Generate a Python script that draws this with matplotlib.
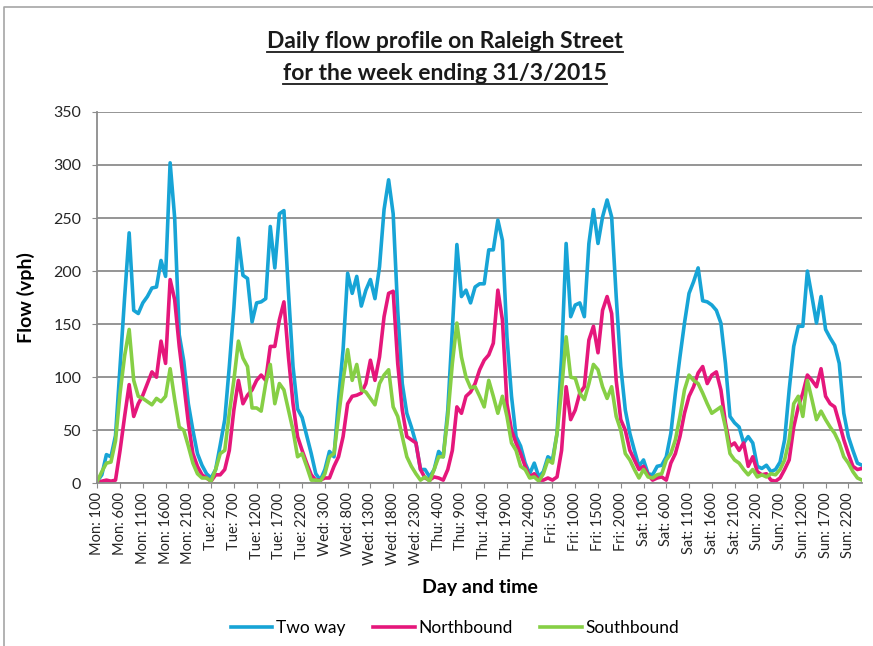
import matplotlib
matplotlib.use("Agg")
import matplotlib.pyplot as plt
from matplotlib.lines import Line2D

plt.rcParams['font.family'] = ['Lato', 'DejaVu Sans']

# hourly flows (vph), Mon 100 ... Sun 2400 plus one closing point
two_way = [
    2, 8, 27, 25, 45, 110, 175, 236, 163, 160, 170, 176, 184, 185, 210, 195, 302, 250, 140, 115, 75, 50, 28, 17,
    9, 5, 13, 36, 60, 110, 165, 231, 196, 193, 152, 170, 171, 174, 242, 203, 254, 257, 180, 110, 70, 62, 45, 28,
    9, 3, 13, 30, 25, 79, 126, 198, 179, 195, 167, 182, 192, 174, 204, 258, 286, 254, 163, 94, 66, 53, 38, 13,
    13, 6, 13, 30, 25, 69, 145, 225, 176, 182, 170, 185, 188, 188, 220, 220, 248, 229, 138, 82, 44, 35, 19, 9,
    19, 6, 11, 25, 22, 47, 119, 226, 157, 168, 170, 157, 226, 258, 226, 251, 267, 251, 176, 110, 69, 47, 31, 16,
    22, 9, 8, 16, 17, 25, 47, 85, 119, 151, 179, 190, 203, 172, 171, 168, 163, 151, 113, 63, 57, 53, 38, 44,
    38, 16, 14, 17, 11, 13, 20, 41, 88, 129, 148, 148, 200, 176, 151, 176, 145, 137, 130, 113, 66, 44, 31, 19,
    17,
]
northbound = [
    0, 2, 3, 2, 3, 31, 63, 93, 63, 75, 83, 94, 105, 100, 134, 113, 192, 173, 129, 94, 57, 28, 16, 8,
    5, 2, 8, 8, 13, 31, 69, 97, 75, 83, 88, 97, 102, 97, 129, 129, 154, 171, 119, 75, 44, 31, 19, 8,
    3, 3, 5, 5, 16, 25, 44, 75, 82, 83, 85, 94, 116, 97, 119, 157, 179, 181, 113, 69, 44, 41, 38, 13,
    5, 3, 6, 5, 3, 13, 31, 72, 66, 82, 86, 94, 107, 116, 121, 132, 182, 154, 75, 50, 38, 28, 16, 6,
    9, 3, 3, 5, 3, 6, 31, 91, 60, 69, 85, 91, 135, 148, 123, 163, 176, 160, 97, 60, 50, 31, 22, 13,
    16, 8, 3, 5, 6, 3, 19, 28, 44, 66, 82, 91, 104, 110, 94, 102, 105, 88, 57, 35, 38, 31, 38, 16,
    25, 11, 8, 9, 3, 2, 5, 13, 22, 53, 72, 85, 102, 97, 91, 108, 82, 75, 72, 57, 41, 28, 16, 13,
    14,
]
southbound = [
    2, 11, 19, 20, 40, 85, 120, 145, 97, 82, 80, 77, 74, 80, 77, 82, 108, 79, 53, 50, 35, 19, 9, 5,
    5, 2, 13, 28, 31, 66, 97, 134, 118, 110, 71, 71, 68, 94, 112, 75, 94, 88, 69, 50, 25, 28, 16, 3,
    3, 2, 9, 25, 28, 63, 97, 126, 97, 112, 88, 86, 80, 74, 94, 102, 107, 72, 63, 44, 25, 16, 9, 3,
    6, 2, 13, 25, 25, 63, 113, 151, 119, 100, 90, 91, 82, 72, 97, 82, 66, 82, 63, 38, 31, 16, 13, 5,
    6, 2, 9, 22, 19, 47, 88, 138, 100, 99, 85, 79, 94, 112, 107, 91, 80, 91, 63, 50, 28, 22, 13, 5,
    13, 6, 5, 8, 9, 22, 28, 41, 63, 88, 102, 97, 94, 85, 75, 66, 69, 72, 53, 28, 22, 19, 13, 8,
    13, 6, 8, 6, 9, 8, 13, 22, 41, 75, 82, 63, 97, 79, 60, 68, 60, 53, 47, 38, 25, 19, 11, 5,
    3,
]

days = ["Mon", "Tue", "Wed", "Thu", "Fri", "Sat", "Sun"]
hours = [100 * h for h in range(1, 25)]
labels = [f"{d}: {h}" for d in days for h in hours]

W, H = 873, 646
fig = plt.figure(figsize=(W / 100, H / 100), dpi=100)
ax = fig.add_axes([97.3 / W, 1 - 483.3 / H, (862 - 97.3) / W, (483.3 - 111.9) / H])

x = list(range(len(two_way)))
ax.plot(x, two_way, color="#17a4d6", lw=2.6, label="Two way", solid_joinstyle="round")
ax.plot(x, northbound, color="#e5177b", lw=2.6, label="Northbound", solid_joinstyle="round")
ax.plot(x, southbound, color="#86cf45", lw=2.6, label="Southbound", solid_joinstyle="round")

ax.set_xlim(0, len(two_way) - 1)
ax.set_ylim(0, 350)
ax.set_yticks(range(0, 351, 50))
ax.set_xticks(range(0, len(labels), 5))
ax.set_xticklabels(labels[::5], rotation=90, fontsize=10.5)
ax.tick_params(axis="y", labelsize=11.5, length=3.6, pad=8, color="#8c8c8c", labelcolor="#262626")
ax.tick_params(axis="x", length=3.6, pad=3, color="#8c8c8c", labelcolor="#262626")
ax.grid(axis="y", color="#8c8c8c", lw=1.3)
ax.set_axisbelow(True)
for s in ["top", "right"]:
    ax.spines[s].set_visible(False)
for s in ["left", "bottom"]:
    ax.spines[s].set_color("#8c8c8c")
    ax.spines[s].set_linewidth(1.3)

ax.set_ylabel("Flow (vph)", fontsize=14, fontweight="bold", labelpad=13)
ax.set_xlabel("Day and time", fontsize=14, fontweight="bold", labelpad=10)

ax.legend(loc="center", bbox_to_anchor=(455 / W, 1 - 628 / H), bbox_transform=fig.transFigure,
          ncol=3, frameon=False, fontsize=12.5, handlelength=2.4, handletextpad=0.2,
          columnspacing=1.6)

# title, underlined
titles = ["Daily flow profile on Raleigh Street", "for the week ending 31/3/2015"]
baselines = [48, 80]
tl = []
for t, b in zip(titles, baselines):
    tl.append(fig.text(445 / W, 1 - b / H, t, ha="center", va="baseline",
                       fontsize=16.5, fontweight="bold", color="#1a1a1a"))
fig.canvas.draw()
r = fig.canvas.get_renderer()
for t, b in zip(tl, baselines):
    bb = t.get_window_extent(r)
    yy = 1 - (b + 3.5) / H
    fig.add_artist(Line2D([bb.x0 / W, bb.x1 / W], [yy, yy], transform=fig.transFigure,
                          color="#1a1a1a", lw=1.3))

# chart area border
fig.add_artist(Line2D([4 / W, 4 / W, 1], [0, 1 - 7 / H, 1 - 7 / H], transform=fig.transFigure,
                      color="#a6a6a6", lw=1.2))

fig.savefig("out.png", dpi=100)
